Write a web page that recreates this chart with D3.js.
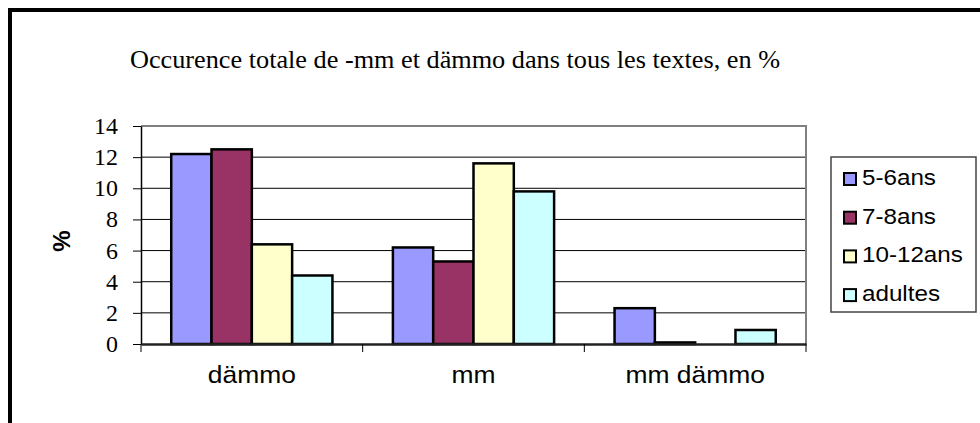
<!DOCTYPE html>
<html>
<head>
<meta charset="utf-8">
<script src="https://cdn.jsdelivr.net/npm/d3@7"></script>
<style>
  body { margin: 0; background: #fff; }
  svg { display: block; }
</style>
</head>
<body>
<svg id="chart" width="980" height="423"></svg>
<script>
// data
var categories = ["dämmo", "mm", "mm dämmo"];
var seriesNames = ["5-6ans", "7-8ans", "10-12ans", "adultes"];
var vals56 = [12.2, 6.2, 2.3];
var vals78 = [12.5, 5.3, 0.1];
var vals1012 = [6.4, 11.6, 0];
var valsAdultes = [4.4, 9.8, 0.9];
var yTicks = [0, 2, 4, 6, 8, 10, 12, 14];
var colors = ["#9999ff", "#993366", "#ffffcc", "#ccffff"];

var seriesValues = [vals56, vals78, vals1012, valsAdultes];
var rows = [];
categories.forEach(function(c, i) {
  seriesNames.forEach(function(s, j) {
    rows.push({cat: c, series: s, value: seriesValues[j][i]});
  });
});

var svg = d3.select("#chart");

// text in the picture is a bit wide, so stretch it horizontally
function addText(sel, x, y, str, stretch) {
  return sel.append("text")
    .attr("transform", "translate(" + x + "," + y + ") scale(" + (stretch || 1.1) + ",1)")
    .text(str);
}

// outer frame
svg.append("rect")
  .attr("x", 10).attr("y", 10)
  .attr("width", 1100).attr("height", 600)
  .attr("fill", "none").attr("stroke", "#000").attr("stroke-width", 4);

var plotLeft = 141, plotRight = 806, plotTop = 126, plotBottom = 344;

var x0 = d3.scaleBand().domain(categories).range([plotLeft, plotRight]);
var groupW = x0.bandwidth() * 4 / 5.5;
var x1 = d3.scaleBand().domain(seriesNames).range([0, groupW]);
var y = d3.scaleLinear().domain([0, 14]).range([plotBottom, plotTop]);
var color = d3.scaleOrdinal().domain(seriesNames).range(colors);

// gridlines
svg.append("g").selectAll("line")
  .data(yTicks.filter(function(t) { return t > 0 && t < 14; }))
  .enter().append("line")
  .attr("x1", plotLeft).attr("x2", plotRight)
  .attr("y1", function(d) { return y(d); }).attr("y2", function(d) { return y(d); })
  .attr("stroke", "#000").attr("stroke-width", 1);

// plot border top/right in gray
svg.append("path")
  .attr("d", "M" + plotLeft + "," + y(14) + "H" + plotRight + "V" + plotBottom)
  .attr("fill", "none").attr("stroke", "#808080").attr("stroke-width", 2);

// bars
svg.append("g").selectAll("rect")
  .data(rows)
  .enter().append("rect")
  .attr("x", function(d) { return x0(d.cat) + (x0.bandwidth() - groupW) / 2 + x1(d.series); })
  .attr("y", function(d) { return y(d.value); })
  .attr("width", x1.bandwidth())
  .attr("height", function(d) { return y(0) - y(d.value); })
  .attr("fill", function(d) { return color(d.series); })
  .attr("stroke", "#000").attr("stroke-width", 2.5)
  .style("display", function(d) { return d.value > 0 ? null : "none"; });

// y axis
var yAxis = d3.axisLeft(y).tickValues(yTicks).tickSize(8).tickSizeOuter(0).tickFormat("");
var yg = svg.append("g").attr("transform", "translate(" + plotLeft + ",0)").call(yAxis);
yg.select(".domain").attr("stroke", "#000").attr("stroke-width", 1.5);
yg.selectAll(".tick line").attr("stroke", "#000");
yTicks.forEach(function(t) {
  addText(svg, 118, y(t) + 8, t, 1.04)
    .attr("text-anchor", "end")
    .attr("font-family", "Liberation Serif, Times New Roman, serif")
    .attr("font-size", 23);
});

// x axis
var xAxis = d3.axisBottom(x0).tickSize(0).tickFormat("");
var xg = svg.append("g").attr("transform", "translate(0," + plotBottom + ")").call(xAxis);
xg.select(".domain").attr("stroke", "#222").attr("stroke-width", 2.5);
var bounds = categories.map(function(c) { return x0(c); }).concat([plotRight]);
xg.selectAll(".sep").data(bounds).enter().append("line")
  .attr("x1", function(d) { return d; }).attr("x2", function(d) { return d; })
  .attr("y1", 0).attr("y2", 8).attr("stroke", "#000");
categories.forEach(function(c) {
  addText(svg, x0(c) + x0.bandwidth() / 2, 383, c, 1.1)
    .attr("text-anchor", "middle")
    .attr("font-family", "Liberation Sans, Arial, sans-serif")
    .attr("font-size", 24);
});

// axis title
svg.append("text")
  .attr("transform", "translate(70,241) rotate(-90)")
  .attr("text-anchor", "middle")
  .attr("font-family", "Liberation Sans, Arial, sans-serif")
  .attr("font-weight", "bold")
  .attr("font-size", 24)
  .text("%");

// chart title
addText(svg, 455, 68, "Occurence totale de -mm et dämmo dans tous les textes, en %", 1.05)
  .attr("text-anchor", "middle")
  .attr("font-family", "Liberation Serif, Times New Roman, serif")
  .attr("font-size", 25);

// legend
var legend = svg.append("g");
legend.append("rect")
  .attr("x", 831).attr("y", 157).attr("width", 145).attr("height", 155)
  .attr("fill", "#fff").attr("stroke", "#444").attr("stroke-width", 1.5);
seriesNames.forEach(function(s, i) {
  var base = 185 + i * 38.7;
  legend.append("rect")
    .attr("x", 844).attr("y", base - 12).attr("width", 12).attr("height", 12)
    .attr("fill", color(s)).attr("stroke", "#000").attr("stroke-width", 2);
  addText(legend, 862, base, s, 1.1)
    .attr("font-family", "Liberation Sans, Arial, sans-serif")
    .attr("font-size", 22);
});
</script>
</body>
</html>
